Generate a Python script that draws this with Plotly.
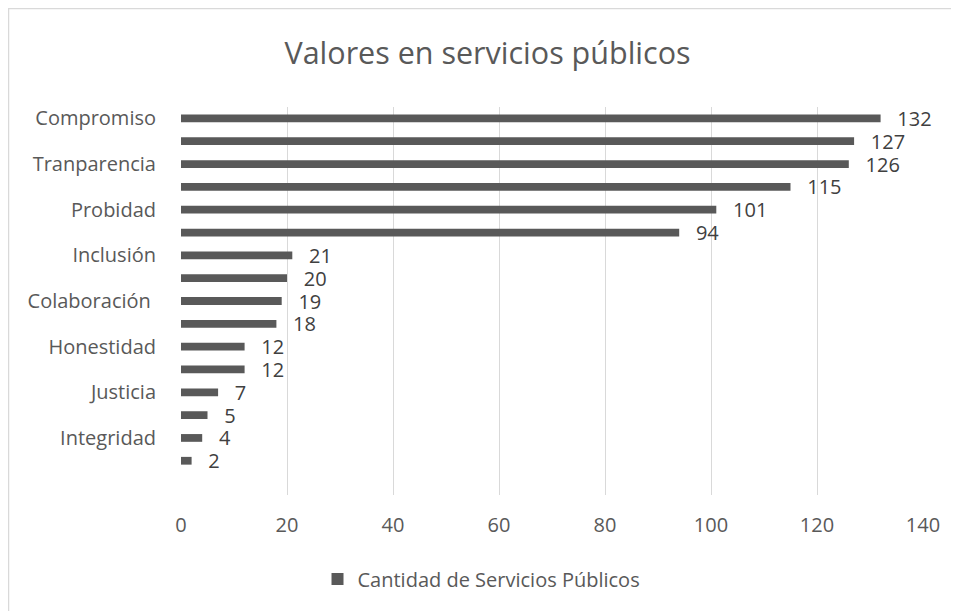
import plotly.graph_objects as go

# ---- data ----
tick_labels = ["Compromiso", "", "Tranparencia", "", "Probidad", "", "Inclusión", "",
               "Colaboración ", "", "Honestidad", "", "Justicia", "", "Integridad", ""]
values = [132, 127, 126, 115, 101, 94, 21, 20, 19, 18, 12, 12, 7, 5, 4, 2]
series_name = "Cantidad de Servicios Públicos"
title_text = "Valores en servicios públicos"
x_ticks = [0, 20, 40, 60, 80, 100, 120, 140]

positions = list(range(len(values)))

FONT = "Open Sans"
BAR = "#595959"
GRID = "#d9d9d9"

L, T, PW, PH = 173, 99, 742, 388
W, H = 959, 611

fig = go.Figure()
fig.add_trace(go.Bar(
    x=values,
    y=positions,
    orientation="h",
    name=series_name,
    marker=dict(color=BAR, line=dict(width=0)),
    width=0.34,
    text=values,
    texttemplate="  \u2009%{x}",
    textposition="outside",
    constraintext="none",
    textfont=dict(family=FONT, size=20, color="#404040"),
    cliponaxis=False,
    showlegend=True,
))

fig.update_layout(
    width=W, height=H,
    paper_bgcolor="white", plot_bgcolor="white",
    margin=dict(l=L, r=W - L - PW, t=T, b=H - T - PH, autoexpand=False),
    title=dict(text=title_text, x=0.5, xanchor="center", y=(H - 45) / H,
               yanchor="middle", yref="container",
               font=dict(family=FONT, size=30.5, color="#595959")),
    font=dict(family=FONT, color="#595959"),
    xaxis=dict(range=[0, 140], tickvals=x_ticks, showgrid=True, gridcolor=GRID,
               gridwidth=1, zeroline=False, showline=False,
               ticks="outside", ticklen=12, tickcolor="rgba(0,0,0,0)",
               tickfont=dict(family=FONT, size=20, color="#595959")),
    yaxis=dict(range=[16.5, -0.5], tickvals=positions, ticktext=tick_labels,
               showgrid=False, zeroline=False, showline=False,
               ticks="outside", ticklen=20, tickcolor="rgba(0,0,0,0)",
               tickfont=dict(family=FONT, size=20, color="#595959")),
    legend=dict(orientation="h", x=0.405, xanchor="center",
                y=-0.2165, yanchor="middle",
                font=dict(family=FONT, size=20, color="#595959"),
                bgcolor="rgba(0,0,0,0)"),
    shapes=[dict(type="rect", xref="paper", yref="paper",
                 x0=(0.5 - L) / PW, x1=1.2, y0=-0.6, y1=(T + PH - 0.5) / PH,
                 line=dict(color=GRID, width=1.5), fillcolor="rgba(0,0,0,0)",
                 layer="below")],
)

fig.write_html("out.html")
